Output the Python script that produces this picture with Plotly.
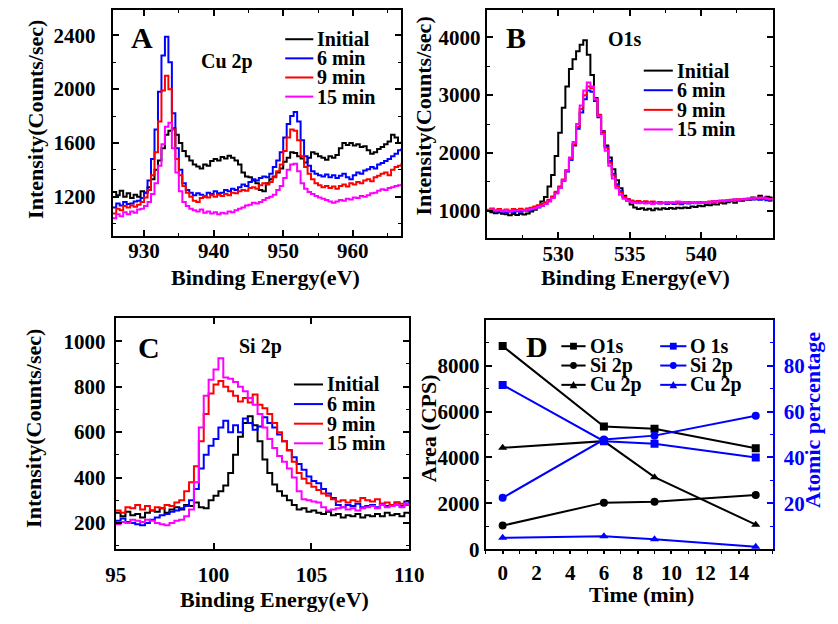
import plotly.graph_objects as go

# ---------------- Panel A: Cu 2p spectra ----------------
cu_energy = [925.5, 926.0, 926.5, 927.0, 927.5, 928.0, 928.5, 929.0, 929.5, 930.0,
             930.5, 931.0, 931.5, 932.0, 932.5, 933.0, 933.5, 934.0, 934.5, 935.0,
             935.5, 936.0, 936.5, 937.0, 937.5, 938.0, 938.5, 939.0, 939.5, 940.0,
             940.5, 941.0, 941.5, 942.0, 942.5, 943.0, 943.5, 944.0, 944.5, 945.0,
             945.5, 946.0, 946.5, 947.0, 947.5, 948.0, 948.5, 949.0, 949.5, 950.0,
             950.5, 951.0, 951.5, 952.0, 952.5, 953.0, 953.5, 954.0, 954.5, 955.0,
             955.5, 956.0, 956.5, 957.0, 957.5, 958.0, 958.5, 959.0, 959.5, 960.0,
             960.5, 961.0, 961.5, 962.0, 962.5, 963.0, 963.5, 964.0, 964.5, 965.0,
             965.5, 966.0, 966.5, 967.0]
cu_initial = [1235, 1210, 1245, 1200, 1225, 1190, 1215, 1200, 1240, 1230,
              1270, 1330, 1400, 1470, 1560, 1660, 1690, 1710, 1660, 1600,
              1540, 1500, 1470, 1440, 1425, 1410, 1440, 1430, 1465, 1480,
              1470, 1495, 1485, 1505, 1490, 1470, 1440, 1380, 1350, 1345,
              1320, 1300, 1250, 1240, 1300, 1330, 1350, 1380, 1410, 1460,
              1490, 1530, 1525, 1500, 1485, 1455, 1490, 1530, 1520, 1500,
              1490, 1475, 1500, 1490, 1510, 1560, 1600, 1585, 1600, 1580,
              1590, 1570, 1575, 1545, 1520, 1530, 1555, 1570, 1590, 1610,
              1660, 1640, 1600, 1610]
cu_6min = [1120, 1150, 1135, 1160, 1145, 1150, 1165, 1170, 1190, 1230,
           1320, 1480, 1700, 1980, 2250, 2390, 2200, 1820, 1560, 1400,
           1300, 1250, 1230, 1210, 1225, 1215, 1200, 1230, 1220, 1240,
           1225, 1230, 1250, 1240, 1260, 1250, 1270, 1290, 1280, 1310,
           1330, 1320, 1340, 1350, 1345, 1370, 1420, 1470, 1530, 1640,
           1740, 1800, 1830, 1760, 1620, 1500, 1430, 1390, 1370, 1360,
           1350, 1365, 1345, 1360, 1340, 1355, 1370, 1345, 1330, 1360,
           1380, 1370, 1395, 1405, 1420, 1410, 1440, 1450, 1465, 1480,
           1500, 1520, 1545, 1560]
cu_9min = [1075, 1110, 1100, 1130, 1120, 1135, 1125, 1140, 1160, 1195,
           1250, 1360, 1530, 1760, 1990, 2100, 2000, 1700, 1480, 1360,
           1280, 1230, 1200, 1170, 1160, 1190, 1205, 1195, 1210, 1200,
           1215, 1205, 1220, 1210, 1230, 1225, 1240, 1250, 1245, 1265,
           1270, 1260, 1285, 1300, 1290, 1310, 1345, 1390, 1440, 1540,
           1640, 1700, 1690, 1620, 1500, 1420, 1370, 1330, 1300, 1285,
           1270, 1280, 1265, 1275, 1260, 1280, 1290, 1275, 1300, 1290,
           1310, 1300, 1320, 1330, 1315, 1345, 1355, 1370, 1380, 1360,
           1400, 1420, 1430, 1450]
cu_15min = [1040, 1070, 1055, 1085, 1070, 1090, 1080, 1105, 1110, 1130,
            1160, 1220, 1300, 1430, 1590, 1720, 1750, 1560, 1380, 1240,
            1160, 1130, 1110, 1100, 1090, 1105, 1080, 1090, 1075, 1085,
            1070, 1080, 1075, 1090, 1085, 1100, 1110, 1120, 1135, 1140,
            1155, 1150, 1160, 1175, 1190, 1200, 1215, 1250, 1280, 1340,
            1400, 1440, 1445, 1390, 1300, 1260, 1235, 1220, 1205, 1195,
            1185, 1175, 1165, 1155, 1165, 1175, 1170, 1185, 1180, 1195,
            1190, 1205, 1200, 1210, 1225, 1230, 1245, 1255, 1250, 1265,
            1270, 1280, 1285, 1295]

# ---------------- Panel B: O 1s spectra ----------------
o_energy = [525.00, 525.25, 525.50, 525.75, 526.00, 526.25, 526.50, 526.75, 527.00, 527.25,
            527.50, 527.75, 528.00, 528.25, 528.50, 528.75, 529.00, 529.25, 529.50, 529.75,
            530.00, 530.25, 530.50, 530.75, 531.00, 531.25, 531.50, 531.75, 532.00, 532.25,
            532.50, 532.75, 533.00, 533.25, 533.50, 533.75, 534.00, 534.25, 534.50, 534.75,
            535.00, 535.25, 535.50, 535.75, 536.00, 536.25, 536.50, 536.75, 537.00, 537.25,
            537.50, 537.75, 538.00, 538.25, 538.50, 538.75, 539.00, 539.25, 539.50, 539.75,
            540.00, 540.25, 540.50, 540.75, 541.00, 541.25, 541.50, 541.75, 542.00, 542.25,
            542.50, 542.75, 543.00, 543.25, 543.50, 543.75, 544.00, 544.25, 544.50, 544.75,
            545.00]
o_initial = [1000, 975, 960, 970, 950, 940, 925, 945, 930, 950,
             935, 955, 990, 1020, 1080, 1160, 1240, 1420, 1620, 1950,
             2350, 2780, 3150, 3450, 3620, 3760, 3870, 3950, 3700, 3350,
             2950, 2620, 2350, 2130, 1920, 1720, 1530, 1390, 1260, 1170,
             1110, 1060, 1030, 1045, 1020, 1035, 1010, 1040, 1025, 1045,
             1030, 1050, 1035, 1055, 1045, 1060, 1050, 1075, 1065, 1090,
             1080, 1100, 1095, 1115, 1110, 1140, 1125, 1150, 1165, 1140,
             1180, 1175, 1205, 1190, 1230, 1200, 1260, 1215, 1245, 1230,
             1210]
o_6min = [1010, 1000, 990, 1005, 985, 970, 990, 975, 995, 985,
          1005, 1000, 1020, 1035, 1060, 1090, 1120, 1170, 1230, 1310,
          1400, 1520, 1680, 1880, 2130, 2420, 2700, 2930, 3080, 3060,
          2900, 2650, 2380, 2110, 1860, 1640, 1460, 1340, 1250, 1200,
          1170, 1150, 1140, 1150, 1135, 1145, 1130, 1140, 1125, 1140,
          1120, 1135, 1120, 1140, 1115, 1135, 1125, 1140, 1130, 1150,
          1140, 1155, 1145, 1165, 1160, 1175, 1165, 1185, 1180, 1195,
          1185, 1200, 1190, 1210, 1195, 1205, 1190, 1200, 1185, 1175,
          1170]
o_9min = [1020, 1040, 1010, 1030, 1005, 1025, 1000, 1030, 1015, 1035,
          1020, 1040, 1055, 1075, 1095, 1120, 1150, 1190, 1250, 1330,
          1420, 1540, 1700, 1900, 2150, 2450, 2760, 3000, 3150, 3120,
          2930, 2660, 2370, 2090, 1830, 1610, 1430, 1320, 1240, 1200,
          1180, 1160, 1170, 1150, 1165, 1145, 1160, 1140, 1155, 1135,
          1150, 1130, 1145, 1125, 1150, 1135, 1155, 1140, 1150, 1135,
          1150, 1140, 1160, 1150, 1170, 1160, 1180, 1170, 1190, 1180,
          1200, 1195, 1210, 1200, 1220, 1210, 1225, 1215, 1205, 1195,
          1180]
o_15min = [1010, 1025, 1000, 1015, 995, 1010, 990, 1005, 1000, 1015,
           1005, 1020, 1030, 1045, 1065, 1090, 1120, 1160, 1220, 1300,
           1400, 1530, 1700, 1920, 2190, 2500, 2820, 3080, 3220, 3150,
           2930, 2640, 2330, 2040, 1780, 1560, 1390, 1280, 1210, 1170,
           1150, 1140, 1130, 1140, 1125, 1135, 1120, 1135, 1125, 1140,
           1130, 1150, 1140, 1160, 1145, 1155, 1140, 1150, 1135, 1145,
           1140, 1155, 1150, 1165, 1160, 1175, 1170, 1185, 1180, 1195,
           1190, 1205, 1200, 1215, 1210, 1225, 1220, 1230, 1215, 1205,
           1195]

# ---------------- Panel C: Si 2p spectra ----------------
si_energy = [95.00, 95.25, 95.50, 95.75, 96.00, 96.25, 96.50, 96.75, 97.00, 97.25,
             97.50, 97.75, 98.00, 98.25, 98.50, 98.75, 99.00, 99.25, 99.50, 99.75,
             100.00, 100.25, 100.50, 100.75, 101.00, 101.25, 101.50, 101.75, 102.00, 102.25,
             102.50, 102.75, 103.00, 103.25, 103.50, 103.75, 104.00, 104.25, 104.50, 104.75,
             105.00, 105.25, 105.50, 105.75, 106.00, 106.25, 106.50, 106.75, 107.00, 107.25,
             107.50, 107.75, 108.00, 108.25, 108.50, 108.75, 109.00, 109.25, 109.50, 109.75,
             110.00]
si_initial = [245, 230, 250, 235, 240, 225, 245, 255, 250, 265,
              245, 260, 270, 260, 280, 275, 290, 270, 265, 300,
              320, 340, 365, 420, 500, 580, 640, 670, 630, 560,
              480, 420, 370, 340, 320, 300, 280, 260, 265, 250,
              255, 245, 240, 250, 235, 240, 225, 235, 230, 240,
              225, 235, 230, 240, 230, 245, 235, 240, 230, 245,
              240]
si_6min = [210, 220, 205, 200, 195, 190, 200, 215, 225, 235,
           240, 250, 255, 265, 275, 300, 350, 440, 500, 540,
           570, 620, 650, 600, 630, 600, 660, 640, 610, 625,
           665, 640, 620, 590, 560, 520, 490, 460, 435, 405,
           385, 375, 350, 330, 310, 280, 270, 280, 275, 285,
           270, 275, 280, 270, 285, 275, 280, 290, 275, 295,
           285]
si_9min = [255, 245, 270, 265, 280, 260, 275, 255, 270, 265,
           280, 275, 290, 300, 340, 380, 450, 560, 680, 770,
           810, 825, 800, 780, 760, 735, 750, 730, 765, 720,
           705, 680, 640, 600, 560, 520, 470, 420, 395, 375,
           360, 345, 330, 320, 305, 295, 300, 290, 300, 295,
           310, 300, 295, 305, 285, 290, 280, 290, 285, 280,
           285]
si_15min = [195, 205, 200, 215, 210, 205, 215, 210, 200, 195,
            190, 200, 210, 215, 230, 260, 380, 620, 760, 830,
            875, 925, 840, 835, 820, 800, 780, 750, 720, 680,
            620, 570, 530, 495, 470, 440, 400, 340, 305, 300,
            295, 290, 270, 255, 260, 265, 270, 260, 265, 255,
            265, 270, 275, 265, 280, 270, 275, 280, 270, 285,
            280]

# ---------------- Panel D: peak areas and atomic percentages ----------------
time_min = [0, 6, 9, 15]
area_o1s = [8850, 5350, 5250, 4400]
area_si2p = [1030, 2030, 2070, 2360]
area_cu2p = [4420, 4710, 3140, 1070]
pct_o1s = [71.6, 47.1, 46.0, 40.0]
pct_si2p = [22.4, 47.8, 49.5, 58.2]
pct_cu2p = [5.0, 5.7, 4.3, 1.1]

series_names = ["Initial", "6 min", "9 min", "15 min"]
series_colors = ["#000000", "#0000FF", "#FF0000", "#FF00FF"]

# tick labels
a_xticks = [930, 940, 950, 960]
a_yticks = [1200, 1600, 2000, 2400]
b_xticks = [530, 535, 540]
b_yticks = [1000, 2000, 3000, 4000]
c_xticks = [95, 100, 105, 110]
c_yticks = [200, 400, 600, 800, 1000]
d_xticks = [0, 2, 4, 6, 8, 10, 12, 14]
d_yticks = [0, 2000, 4000, 6000, 8000]
d_y2ticks = [20, 40, 60, 80]

W, H = 838, 624
SERIF = "Liberation Serif, Times New Roman, serif"
BLUE = "#0000FF"


def fx(p):
    return p / W


def fy(p):
    return 1 - p / H


fig = go.Figure()

# spectra
spectra = [
    ("x", "y", cu_energy, [cu_initial, cu_6min, cu_9min, cu_15min]),
    ("x2", "y2", o_energy, [o_initial, o_6min, o_9min, o_15min]),
    ("x3", "y3", si_energy, [si_initial, si_6min, si_9min, si_15min]),
]
for xa, ya, energy, curves in spectra:
    for name, color, vals in zip(series_names, series_colors, curves):
        fig.add_trace(go.Scatter(
            x=energy, y=vals, name=name, mode="lines", xaxis=xa, yaxis=ya,
            line=dict(color=color, width=2, shape="hv"), showlegend=False))

# panel D
for vals, sym, name in [(area_o1s, "square", "O1s"), (area_si2p, "circle", "Si 2p"),
                        (area_cu2p, "triangle-up", "Cu 2p")]:
    fig.add_trace(go.Scatter(
        x=time_min, y=vals, name=name, mode="lines+markers", xaxis="x4", yaxis="y4",
        line=dict(color="black", width=2), marker=dict(symbol=sym, size=8, color="black"),
        showlegend=False))
for vals, sym, name in [(pct_o1s, "square", "O 1s"), (pct_si2p, "circle", "Si 2p"),
                        (pct_cu2p, "triangle-up", "Cu 2p")]:
    fig.add_trace(go.Scatter(
        x=time_min, y=vals, name=name, mode="lines+markers", xaxis="x4", yaxis="y5",
        line=dict(color=BLUE, width=2), marker=dict(symbol=sym, size=8, color=BLUE),
        showlegend=False))


def axis(domain, rng, tickvals, minor_dtick=None, color="black", standoff=3,
         ticks="inside", ticklen=6, minorlen=3, **kw):
    d = dict(domain=domain, range=rng, tickmode="array", tickvals=tickvals,
             showline=True, linewidth=2, linecolor=color, ticks=ticks, ticklen=ticklen,
             tickwidth=1.5, tickcolor=color, showgrid=False, zeroline=False,
             ticklabelstandoff=standoff,
             tickfont=dict(family=SERIF, size=21, color=color, weight="bold"))
    if minor_dtick is not None:
        d["minor"] = dict(tick0=0, dtick=minor_dtick, ticks=ticks, ticklen=minorlen,
                          tickwidth=1.2, tickcolor=color, showgrid=False)
    d.update(kw)
    return d


fig.update_layout(
    width=W, height=H, margin=dict(l=0, r=0, t=0, b=0),
    paper_bgcolor="white", plot_bgcolor="white", showlegend=False,
    xaxis=axis([fx(105), fx(403)], [925.5, 967], a_xticks, 5, anchor="y", mirror="ticks", standoff=-6),
    yaxis=axis([fy(241), fy(10)], [905, 2590], a_yticks, 200, anchor="x", mirror="ticks", standoff=11),
    xaxis2=axis([fx(491), fx(786)], [525, 545], b_xticks, 2.5, anchor="y2", mirror="ticks", standoff=-5),
    yaxis2=axis([fy(243), fy(10)], [525, 4475], b_yticks, 500, anchor="x2", mirror="ticks", standoff=0),
    xaxis3=axis([fx(108), fx(411)], [95, 110], c_xticks, None, anchor="y3", mirror="ticks", standoff=6),
    yaxis3=axis([fy(560), fy(324)], [85, 1103], c_yticks, 100, anchor="x3", mirror="ticks", standoff=4),
    xaxis4=axis([fx(490), fx(786)], [-1, 16], d_xticks, 1, anchor="y4", mirror=True, standoff=1,
                ticks="outside", ticklen=3, minorlen=3),
    yaxis4=axis([fy(560), fy(326)], [0, 10000], d_yticks, 1000, anchor="x4", standoff=0),
    yaxis5=axis([fy(560), fy(326)], [0, 100], d_y2ticks, 10, color=BLUE, anchor="x4",
                overlaying="y4", side="right", standoff=5),
)

annotations = []
shapes = []


def text(x, y, s, size, color="black", angle=0, xanchor="center"):
    annotations.append(dict(
        x=fx(x), y=fy(y), xref="paper", yref="paper", text=s, showarrow=False,
        textangle=angle, xanchor=xanchor, yanchor="middle",
        font=dict(family=SERIF, size=size, color=color, weight="bold")))


def marker_shape(sym, cx, cy, color, r=3.5):
    x0, x1, y0, y1 = fx(cx - r), fx(cx + r), fy(cy + r), fy(cy - r)
    if sym == "square":
        shapes.append(dict(type="rect", xref="paper", yref="paper", x0=x0, x1=x1,
                           y0=y0, y1=y1, fillcolor=color, line=dict(width=0)))
    elif sym == "circle":
        shapes.append(dict(type="circle", xref="paper", yref="paper", x0=x0, x1=x1,
                           y0=y0, y1=y1, fillcolor=color, line=dict(width=0)))
    else:
        path = "M {:.5f},{:.5f} L {:.5f},{:.5f} L {:.5f},{:.5f} Z".format(
            fx(cx - r - 0.5), fy(cy + r), fx(cx + r + 0.5), fy(cy + r), fx(cx), fy(cy - r - 0.5))
        shapes.append(dict(type="path", xref="paper", yref="paper", path=path,
                           fillcolor=color, line=dict(width=0)))


def legend_block(x0, x1, y0, dy, labels, colors, symbols=None, size=20):
    for i, (lab, col) in enumerate(zip(labels, colors)):
        y = y0 + dy * i
        shapes.append(dict(type="line", xref="paper", yref="paper", x0=fx(x0), x1=fx(x1),
                           y0=fy(y), y1=fy(y), line=dict(color=col, width=2)))
        if symbols:
            marker_shape(symbols[i], (x0 + x1) / 2, y, col)
        text(x1 + 2, y, lab, size, xanchor="left")


# panel letters and core-level tags
text(135, 38, "A", 30)
text(521, 38, "B", 30)
text(142, 354, "C", 30)
text(543, 353, "D", 30)
text(223, 63, "Cu 2p", 20)
text(634, 40, "O1s", 20)
text(257, 353, "Si 2p", 20)

# axis titles
text(25, 122, "Intensity(Counts/sec)", 22, angle=-90)
text(263, 283, "Binding Energy(eV)", 22)
text(426, 118, "Intensity(Counts/sec)", 22, angle=-90)
text(645, 283, "Binding Energy(eV)", 22)
text(23, 437, "Intensity(Counts/sec)", 22, angle=-90)
text(272, 611, "Binding Energy(eV)", 22)
text(431, 437, "Area (CPS)", 22, angle=-90)
text(651, 606, "Time (min)", 22)
text(827, 428, "Atomic percentage", 22, color=BLUE, angle=-90)

# legends
legend_block(283, 312, 40, 19.5, series_names, series_colors)
legend_block(653, 683, 72, 20, series_names, series_colors)
legend_block(292, 322, 392, 20, series_names, series_colors)
d_syms = ["square", "circle", "triangle-up"]
legend_block(568, 593, 353, 19.7, ["O1s", "Si 2p", "Cu 2p"], ["black"] * 3, d_syms)
legend_block(670, 697, 353, 19.7, ["O 1s", "Si 2p", "Cu 2p"], [BLUE] * 3, d_syms)

fig.update_layout(annotations=annotations, shapes=shapes)

fig.write_html("out.html")
